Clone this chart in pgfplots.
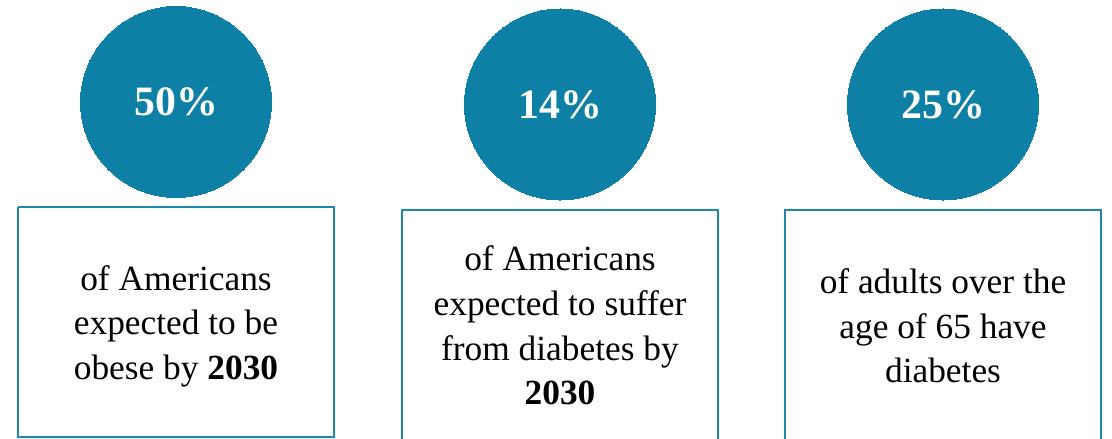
\documentclass[border=0pt]{standalone}
\usepackage{pgfplots}
\pgfplotsset{compat=1.18}
\usepackage{fontspec}
\setmainfont{Liberation Serif}
\definecolor{teal1}{RGB}{14,128,166}
\definecolor{teal2}{RGB}{30,137,176}
\begin{document}
\begin{tikzpicture}
\begin{axis}[
  width=1112bp, height=439bp, scale only axis,
  xmin=0, xmax=1112, ymin=0, ymax=439, y dir=reverse,
  axis lines=none, clip=true,
  every node/.append style={inner sep=0pt, outer sep=0pt},
]
% boxes
\addplot[draw=teal2, line width=2bp] coordinates {(18,207) (334,207) (334,437) (18,437) (18,207)};
\addplot[draw=teal2, line width=2bp] coordinates {(402,439) (402,210) (718,210) (718,439)};
\addplot[draw=teal2, line width=2bp] coordinates {(785,439) (785,210) (1101,210) (1101,439)};
% circles with percentages
\addplot[only marks, mark=*, mark size=95.5bp, mark options={fill=teal1, draw=teal1, line width=0pt},
  point meta=explicit symbolic,
  nodes near coords={\pgfplotspointmeta\%},
  every node near coord/.style={anchor=center, text=white, font=\fontsize{42}{42}\selectfont\bfseries}]
  table[meta=label] {
x y label
176 102 50
560 104.5 14
943 104.5 25
};
% box texts
\begin{scope}[every node/.style={anchor=base, inner sep=0pt, font=\fontsize{35.5}{44}\selectfont}]
\node at (axis cs:176,290) {of Americans};
\node at (axis cs:176,334) {expected to be};
\node at (axis cs:176,379) {obese by \textbf{2030}};
\node at (axis cs:560,270) {of Americans};
\node at (axis cs:560,315) {expected to suffer};
\node at (axis cs:560,360) {from diabetes by};
\node at (axis cs:560,404) {\textbf{2030}};
\node at (axis cs:943,293) {of adults over the};
\node at (axis cs:943,338) {age of 65 have};
\node at (axis cs:943,382) {diabetes};
\end{scope}
\end{axis}
\pgfresetboundingbox
\path (current axis.south west) rectangle (current axis.north east);
\end{tikzpicture}
\end{document}
